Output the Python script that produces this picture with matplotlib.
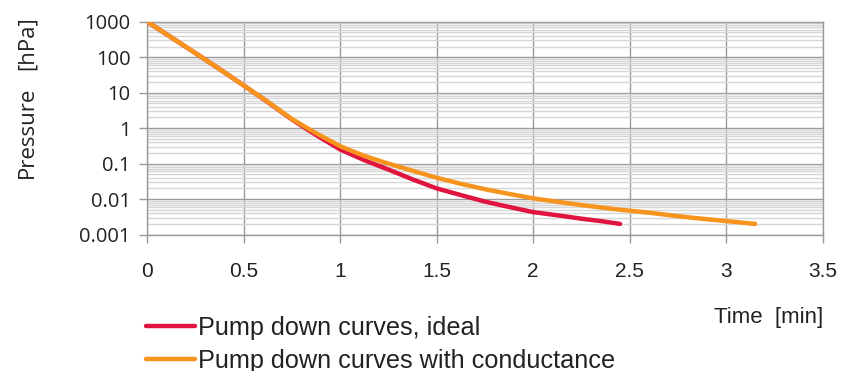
import matplotlib
matplotlib.use("Agg")
import matplotlib.pyplot as plt
from matplotlib import font_manager
from matplotlib.ticker import LogLocator, FixedLocator, NullFormatter

# Werte
t_ideal = [0, 0.125, 0.25, 0.375, 0.5, 0.625, 0.75, 0.875, 1.0, 1.125, 1.25, 1.375,
           1.5, 1.625, 1.75, 1.875, 2.0, 2.125, 2.25, 2.35, 2.45]
p_ideal = [1000, 360, 130, 46, 16, 5.4, 1.75, 0.64, 0.25, 0.125, 0.068, 0.036,
           0.020, 0.013, 0.0085, 0.006, 0.0043, 0.0035, 0.0028, 0.0024, 0.002]

t_cond = [0, 0.125, 0.25, 0.375, 0.5, 0.625, 0.75, 0.875, 1.0, 1.125, 1.25, 1.375,
          1.5, 1.625, 1.75, 1.875, 2.0, 2.125, 2.25, 2.375, 2.5, 2.625, 2.75, 2.875,
          3.0, 3.15]
p_cond = [1000, 360, 130, 46, 16, 5.5, 1.8, 0.72, 0.31, 0.165, 0.10, 0.063,
          0.04, 0.027, 0.019, 0.014, 0.0105, 0.0084, 0.0068, 0.0056, 0.0047, 0.004,
          0.0033, 0.0028, 0.0024, 0.002]

x_ticks = [0, 0.5, 1, 1.5, 2, 2.5, 3, 3.5]
x_labels = ["0", "0.5", "1", "1.5", "2", "2.5", "3", "3.5"]
y_ticks = [0.001, 0.01, 0.1, 1, 10, 100, 1000]
y_labels = ["0.001", "0.01", "0.1", "1", "10", "100", "1000"]

red = "#E0143F"
orange = "#F7941D"
major_c = "#9A9A9A"
minor_c = "#D6D6D6"
txt_c = "#222222"

installed = {f.name for f in font_manager.fontManager.ttflist}
narrow = "Liberation Sans Narrow" if "Liberation Sans Narrow" in installed else "Liberation Sans"

plt.rcParams["font.family"] = ["Liberation Sans", "DejaVu Sans"]

fig = plt.figure(figsize=(8.66, 3.71), dpi=100)
ax = fig.add_axes([0.170, 0.3677, 0.780, 0.5738])

l1, = ax.plot(t_ideal, p_ideal, color=red, lw=3.2, solid_capstyle="round",
              solid_joinstyle="round", zorder=3)
l2, = ax.plot(t_cond, p_cond, color=orange, lw=3.2, solid_capstyle="round",
              solid_joinstyle="round", zorder=4)

ax.set_yscale("log")
ax.set_xlim(0, 3.5)
ax.set_ylim(0.001, 1000)

ax.xaxis.set_major_locator(FixedLocator(x_ticks))
ax.set_xticklabels(x_labels, fontfamily=[narrow, "DejaVu Sans"], fontsize=15)
ax.yaxis.set_major_locator(FixedLocator(y_ticks))
ax.set_yticklabels(y_labels, fontfamily=["Open Sans", "DejaVu Sans"], fontsize=14.5)
ax.yaxis.set_minor_locator(LogLocator(base=10, subs=range(2, 10), numticks=20))
ax.yaxis.set_minor_formatter(NullFormatter())

ax.grid(which="major", color=major_c, lw=1.0, zorder=1)
ax.grid(which="minor", axis="y", color=minor_c, lw=1.0, zorder=0)
ax.set_axisbelow(True)

ax.tick_params(which="major", length=6, width=1, color=major_c, labelcolor=txt_c, pad=6)
ax.tick_params(axis="x", pad=14)
ax.tick_params(which="minor", length=0)
for s in ax.spines.values():
    s.set_color(major_c)
    s.set_linewidth(1)

# y-Achsentitel mit breiter Lücke zwischen Wort und Einheit
fig.text(27 / 866, 1 - 132 / 371, "Pressure", rotation=90, ha="center", va="center",
         fontsize=16, color=txt_c, family=["Open Sans", "DejaVu Sans"])
fig.text(27 / 866, 1 - 43 / 371, "[hPa]", rotation=90, ha="center", va="center",
         fontsize=16, color=txt_c, family=["Open Sans", "DejaVu Sans"])
fig.text(823 / 866, 1 - 318 / 371, "Time  [min]", ha="right", va="center",
         fontsize=16, color=txt_c, family=[narrow, "DejaVu Sans"])

fig.legend([l1, l2], ["Pump down curves, ideal", "Pump down curves with conductance"],
           loc="upper left", bbox_to_anchor=(146 / 866, 1 - 316 / 371),
           frameon=False, fontsize=18.2, handlelength=1.95, handletextpad=0.12,
           labelspacing=0.34, borderpad=0, borderaxespad=0, labelcolor=txt_c)

fig.savefig("out.png", dpi=100)
